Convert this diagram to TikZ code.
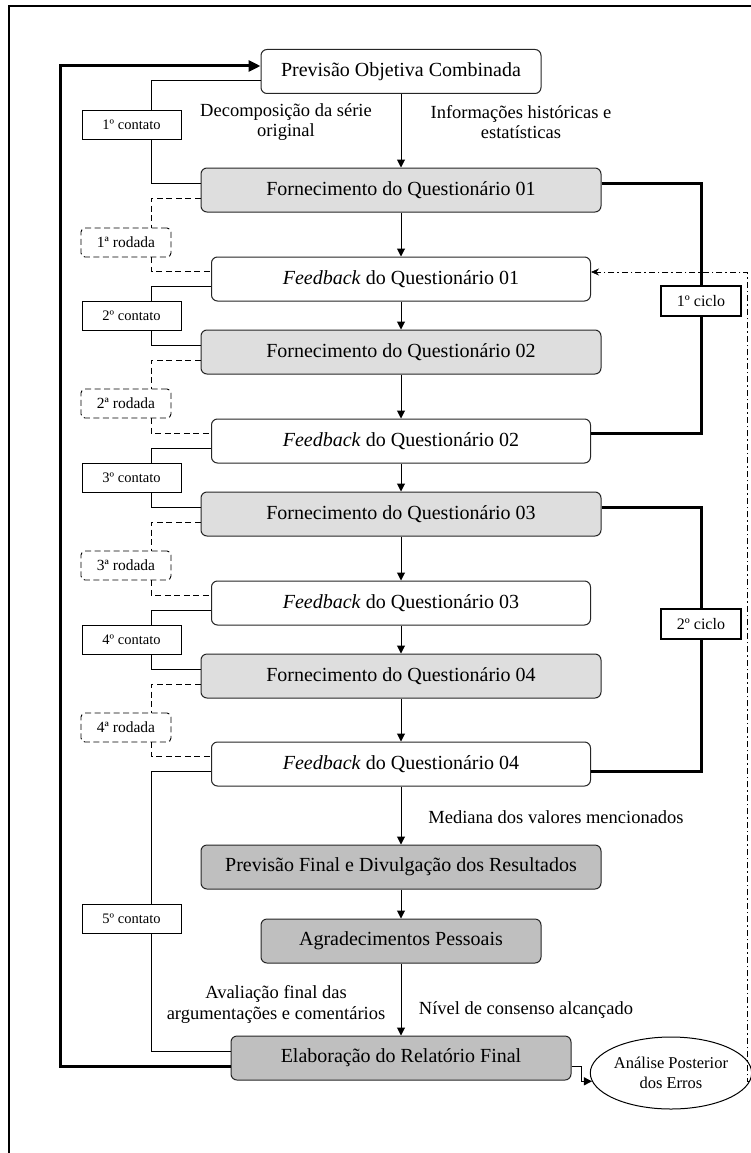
\documentclass[tikz,border=0pt]{standalone}
\usepackage{fontspec}
\setmainfont{Liberation Serif}
\usetikzlibrary{arrows.meta,shapes.geometric}
\begin{document}
\begin{tikzpicture}[x=1pt,y=-1pt,
  caixa/.style={draw=black!85, rounded corners=6pt, line width=1pt, minimum width=400pt, minimum height=44pt, inner sep=0pt, font=\fontsize{20}{24}\selectfont},
  forn/.style={caixa, fill=black!13},
  fim/.style={caixa, fill=black!25},
  fb/.style={caixa, fill=white, minimum width=379pt},
  contato/.style={draw, line width=0.9pt, minimum width=99pt, minimum height=29pt, inner sep=0pt, font=\fontsize{14.5}{17}\selectfont},
  rodada/.style={contato, dash pattern=on 6pt off 3.5pt, rounded corners=4pt, minimum width=90pt, font=\fontsize{15.5}{18}\selectfont},
  ciclo/.style={draw, line width=2.5pt, minimum width=80pt, minimum height=30pt, inner sep=0pt, font=\fontsize{16}{19}\selectfont},
  rotulo/.style={align=center, font=\fontsize{18.5}{20.5}\selectfont},
  seta/.style={line width=1pt, -{Triangle[length=8pt,width=8pt]}},
  fina/.style={line width=0.9pt},
  tracejada/.style={line width=0.9pt, dash pattern=on 6pt off 3.5pt},
  grossa/.style={line width=3pt},
  pontotraco/.style={line width=0.7pt, dash pattern=on 6pt off 3pt on 1.5pt off 3pt, -{Stealth[length=8pt,width=7pt]}}]
\useasboundingbox (0,0) rectangle (751,1153);
\draw[line width=2pt] (9,1153) -- (9,6) -- (751,6);
% caixas principais
\node[caixa, fill=white, minimum width=280pt] (p0) at (401,71.5) {Previsão Objetiva Combinada};
\node[forn] (f1) at (401,190) {Fornecimento do Questionário 01};
\node[fb] (b1) at (401,279) {\textit{Feedback} do Questionário 01};
\node[forn] (f2) at (401,352) {Fornecimento do Questionário 02};
\node[fb] (b2) at (401,441) {\textit{Feedback} do Questionário 02};
\node[forn] (f3) at (401,514) {Fornecimento do Questionário 03};
\node[fb] (b3) at (401,603) {\textit{Feedback} do Questionário 03};
\node[forn] (f4) at (401,676) {Fornecimento do Questionário 04};
\node[fb] (b4) at (401,764) {\textit{Feedback} do Questionário 04};
\node[fim] (pf) at (401,867) {Previsão Final e Divulgação dos Resultados};
\node[fim, minimum width=280pt] (ag) at (401,941) {Agradecimentos Pessoais};
\node[fim, minimum width=340pt] (el) at (401,1058) {Elaboração do Relatório Final};
\node[draw, ellipse, line width=1pt, minimum width=142pt, minimum height=72pt, inner sep=0pt, align=center, font=\fontsize{16.5}{20}\selectfont] (ae) at (671,1073) {Análise Posterior\\dos Erros};
% contatos, rodadas e ciclos
\node[contato] (c1) at (131.5,124.5) {1º contato};
\node[contato] (c2) at (131.5,315.5) {2º contato};
\node[contato] (c3) at (131.5,477.5) {3º contato};
\node[contato] (c4) at (131.5,639.5) {4º contato};
\node[contato] (c5) at (131.5,918.5) {5º contato};
\node[rodada] (r1) at (126,242.5) {1ª rodada};
\node[rodada] (r2) at (126,403.5) {2ª rodada};
\node[rodada] (r3) at (126,565.5) {3ª rodada};
\node[rodada] (r4) at (126,727.5) {4ª rodada};
\node[ciclo] (k1) at (701,301) {1º ciclo};
\node[ciclo] (k2) at (701,624) {2º ciclo};
% rotulos
\node[rotulo] (t1) at (286,122) {Decomposição da série\\original};
\node[rotulo] (t2) at (521,122) {Informações históricas e\\estatísticas};
\node[rotulo] (t3) at (556,817) {Mediana dos valores mencionados};
\node[rotulo] (t4) at (276,1004.5) {Avaliação final das\\argumentações e comentários};
\node[rotulo] (t5) at (526,1010) {Nível de consenso alcançado};
\coordinate (lp) at (60,560);
\coordinate (rt) at (747,272);
% setas verticais
\path[draw,seta] (p0.south) -- (f1.north);
\path[draw,seta] (f1.south) -- (b1.north);
\path[draw,seta] (b1.south) -- (f2.north);
\path[draw,seta] (f2.south) -- (b2.north);
\path[draw,seta] (b2.south) -- (f3.north);
\path[draw,seta] (f3.south) -- (b3.north);
\path[draw,seta] (b3.south) -- (f4.north);
\path[draw,seta] (f4.south) -- (b4.north);
\path[draw,seta] (b4.south) -- (pf.north);
\path[draw,seta] (pf.south) -- (ag.north);
\path[draw,seta] (ag.south) -- (el.north);
% contatos
\draw[fina] ([yshift=-8.5pt]p0.west) -| ([xshift=19.5pt]c1.north);
\draw[fina] ([xshift=19.5pt]c1.south) |- ([yshift=7pt]f1.west);
\draw[fina] ([yshift=-7pt]b1.west) -| ([xshift=19.5pt]c2.north);
\draw[fina] ([xshift=19.5pt]c2.south) |- ([yshift=7pt]f2.west);
\draw[fina] ([yshift=-7pt]b2.west) -| ([xshift=19.5pt]c3.north);
\draw[fina] ([xshift=19.5pt]c3.south) |- ([yshift=7pt]f3.west);
\draw[fina] ([yshift=-7pt]b3.west) -| ([xshift=19.5pt]c4.north);
\draw[fina] ([xshift=19.5pt]c4.south) |- ([yshift=7pt]f4.west);
\draw[fina] ([yshift=-7pt]b4.west) -| ([xshift=19.5pt]c5.north);
\draw[fina] ([xshift=19.5pt]c5.south) |- ([yshift=7pt]el.west);
% rodadas
\draw[tracejada] ([yshift=-8pt]f1.west) -| ([xshift=25pt]r1.north);
\draw[tracejada] ([xshift=25pt]r1.south) |- ([yshift=8pt]b1.west);
\draw[tracejada] ([yshift=-8pt]f2.west) -| ([xshift=25pt]r2.north);
\draw[tracejada] ([xshift=25pt]r2.south) |- ([yshift=8pt]b2.west);
\draw[tracejada] ([yshift=-8pt]f3.west) -| ([xshift=25pt]r3.north);
\draw[tracejada] ([xshift=25pt]r3.south) |- ([yshift=8pt]b3.west);
\draw[tracejada] ([yshift=-8pt]f4.west) -| ([xshift=25pt]r4.north);
\draw[tracejada] ([xshift=25pt]r4.south) |- ([yshift=8pt]b4.west);
% ciclos
\draw[grossa] ([yshift=7pt]f1.east) -| (k1.north);
\draw[grossa] (k1.south) |- ([yshift=7.5pt]b2.east);
\draw[grossa] ([yshift=7pt]f3.east) -| (k2.north);
\draw[grossa] (k2.south) |- ([yshift=-7pt]b4.east);
% retorno e analise
\draw[grossa, -{Triangle[length=12pt,width=11pt]}] ([yshift=-8pt]el.west) -| (lp) |- ([yshift=5.5pt]p0.west);
\draw[seta] ([yshift=-8pt]el.east) -- ++(10,0) |- (ae.186);
\draw[pontotraco] (ae.354) -| (rt) -- ([yshift=7pt]b1.east);
\end{tikzpicture}
\end{document}
